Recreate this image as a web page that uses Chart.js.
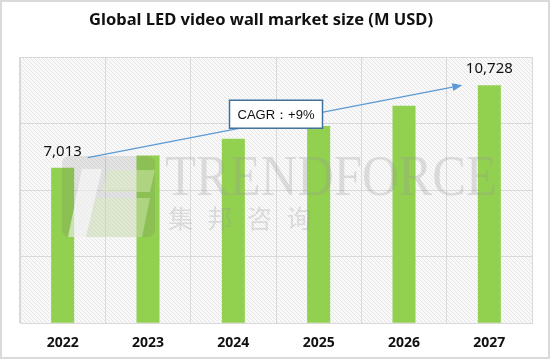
<!DOCTYPE html>
<html>
<head>
<meta charset="utf-8">
<script src="https://cdn.jsdelivr.net/npm/chart.js@4.4.0/dist/chart.umd.min.js"></script>
<style>
  html, body { margin: 0; padding: 0; background: #fff; }
</style>
</head>
<body>
<canvas id="wallChart" width="550" height="359"></canvas>
<script>
const years = ['2022', '2023', '2024', '2025', '2026', '2027'];
const marketSize = [7013, 7560, 8320, 8890, 9800, 10728];
const shownLabels = ['7,013', '', '', '', '', '10,728'];
const cagrText = 'CAGR：+9%';
const titleText = 'Global LED video wall market size (M USD)';

const gridGrey = '#d9d9d9';
const barGreen = '#92d050';
const arrowBlue = '#5b9bd5';

// fine diagonal texture of the plot area
const hatch = document.createElement('canvas');
hatch.width = 4; hatch.height = 4;
(function() {
    const g = hatch.getContext('2d');
    g.fillStyle = '#f9f9f9';
    g.fillRect(0, 0, 4, 4);
    g.fillStyle = '#e6e6e6';
    for (let i = 0; i < 4; i++) g.fillRect(i, i, 1, 1);
})();

const decor = {
    id: 'decor',
    beforeDraw(chart) {
        const { ctx, chartArea: a } = chart;
        ctx.save();
        ctx.fillStyle = ctx.createPattern(hatch, 'repeat');
        ctx.fillRect(a.left, a.top, a.right - a.left, a.bottom - a.top);

        // title sits a little left of the plot centre in the original
        ctx.fillStyle = '#111';
        ctx.font = 'bold 16.5px "Noto Sans"';
        ctx.textAlign = 'center';
        ctx.textBaseline = 'middle';
        ctx.fillText(titleText, 261, 20.5);
        ctx.restore();
    },
    afterDatasetsDraw(chart) {
        // TrendForce watermark
        const { ctx, chartArea: a } = chart;
        const ox = a.left, oy = a.top;
        ctx.save();
        ctx.fillStyle = 'rgba(110,110,110,0.16)';
        ctx.beginPath();
        ctx.roundRect(ox + 42, oy + 99, 93, 81, 7);
        ctx.fill();
        ctx.fillStyle = 'rgba(255,255,255,0.55)';
        ctx.beginPath();
        ctx.moveTo(ox + 62, oy + 112); ctx.lineTo(ox + 82, oy + 112);
        ctx.lineTo(ox + 66, oy + 180); ctx.lineTo(ox + 48, oy + 180);
        ctx.closePath(); ctx.fill();
        ctx.fillStyle = 'rgba(215,235,185,0.45)';
        ctx.beginPath();
        ctx.moveTo(ox + 88, oy + 113); ctx.lineTo(ox + 135, oy + 113);
        ctx.lineTo(ox + 130, oy + 135); ctx.lineTo(ox + 82, oy + 135);
        ctx.closePath(); ctx.fill();
        ctx.beginPath();
        ctx.moveTo(ox + 76, oy + 141); ctx.lineTo(ox + 130, oy + 141);
        ctx.lineTo(ox + 122, oy + 180); ctx.lineTo(ox + 66, oy + 180);
        ctx.closePath(); ctx.fill();

        ctx.fillStyle = 'rgba(150,150,150,0.28)';
        ctx.font = '58px "Liberation Serif"';
        ctx.textBaseline = 'alphabetic';
        ctx.fillText('TRENDFORCE', ox + 145, oy + 138, 332);
        ctx.font = '25px "Noto Sans CJK SC"';
        const cn = ['集', '邦', '咨', '询'];
        cn.forEach((ch, i) => ctx.fillText(ch, ox + 148 + i * 39.5, oy + 171));
        ctx.restore();
    },
    afterDraw(chart) {
        const { ctx } = chart;
        const x = chart.scales.x, y = chart.scales.y;
        const last = marketSize.length - 1;
        ctx.save();

        // CAGR arrow
        const x0 = x.getPixelForValue(0) + 25, y0 = y.getPixelForValue(marketSize[0]) - 10;
        const x1 = x.getPixelForValue(last) - 27, y1 = y.getPixelForValue(marketSize[last]);
        const ang = Math.atan2(y1 - y0, x1 - x0);
        const head = 10;
        ctx.strokeStyle = arrowBlue;
        ctx.fillStyle = arrowBlue;
        ctx.lineWidth = 1.5;
        ctx.beginPath();
        ctx.moveTo(x0, y0);
        ctx.lineTo(x1 - head * Math.cos(ang), y1 - head * Math.sin(ang));
        ctx.stroke();
        ctx.beginPath();
        ctx.moveTo(x1, y1);
        ctx.lineTo(x1 - head * Math.cos(ang) + 4 * Math.sin(ang), y1 - head * Math.sin(ang) - 4 * Math.cos(ang));
        ctx.lineTo(x1 - head * Math.cos(ang) - 4 * Math.sin(ang), y1 - head * Math.sin(ang) + 4 * Math.cos(ang));
        ctx.closePath();
        ctx.fill();

        // CAGR box
        const cx = (x.getPixelForValue(2) + x.getPixelForValue(3)) / 2;
        const cy = y0 + (cx - x0) * Math.tan(ang) - 7;
        const bw = 93, bh = 28;
        ctx.fillStyle = '#fff';
        ctx.fillRect(cx - bw / 2, cy - bh / 2, bw, bh);
        ctx.strokeStyle = '#41719c';
        ctx.lineWidth = 1.5;
        ctx.strokeRect(cx - bw / 2, cy - bh / 2, bw, bh);
        ctx.fillStyle = '#111';
        ctx.font = '13px "Liberation Sans"';
        ctx.textAlign = 'center';
        ctx.textBaseline = 'middle';
        ctx.fillText(cagrText, cx, cy + 1);

        // value labels
        ctx.font = '15px "Noto Sans"';
        ctx.textBaseline = 'alphabetic';
        shownLabels.forEach((t, i) => {
            if (!t) return;
            ctx.fillText(t, x.getPixelForValue(i), y.getPixelForValue(marketSize[i]) - 12);
        });

        // outer frame
        ctx.strokeStyle = '#dadada';
        ctx.lineWidth = 2;
        ctx.strokeRect(1, 1, chart.width - 2, chart.height - 2);
        ctx.restore();
    }
};

new Chart(document.getElementById('wallChart'), {
    type: 'bar',
    data: {
        labels: years,
        datasets: [{
            data: marketSize,
            backgroundColor: barGreen,
            barPercentage: 0.27,
            categoryPercentage: 1
        }]
    },
    options: {
        responsive: false,
        animation: false,
        layout: { padding: { left: 20, right: 18, top: 57, bottom: -3 } },
        plugins: {
            legend: { display: false },
            tooltip: { enabled: false },
            title: { display: false }
        },
        scales: {
            x: {
                grid: { color: gridGrey, drawTicks: false, offset: true },
                border: { color: gridGrey },
                ticks: {
                    color: '#111',
                    padding: 11,
                    font: { family: 'Noto Sans', size: 14, weight: 'bold' }
                }
            },
            y: {
                min: 0,
                max: 12000,
                ticks: { display: false, stepSize: 3000 },
                grid: { color: gridGrey, drawTicks: false },
                border: { color: gridGrey }
            }
        }
    },
    plugins: [decor]
});
</script>
</body>
</html>
